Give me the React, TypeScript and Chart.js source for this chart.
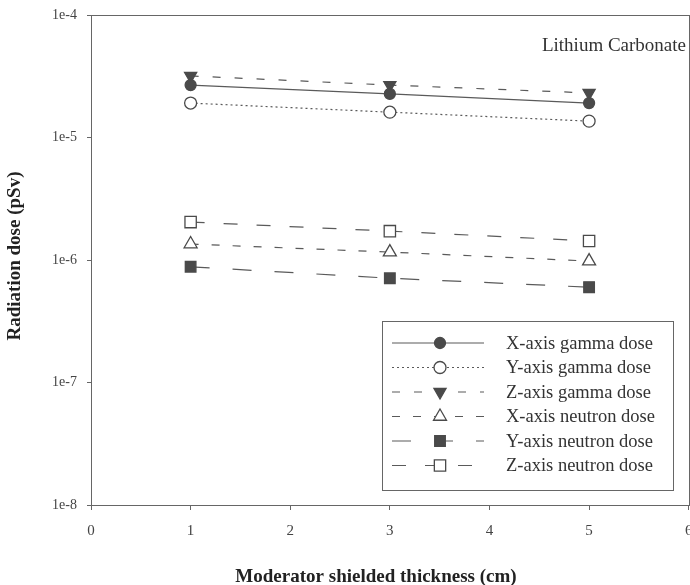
import React, { useEffect, useRef } from "react";
import { Chart, registerables } from "chart.js";

Chart.register(...registerables);

// ---- data ----
const thickness = [1, 3, 5];
const xTickValues = [0, 1, 2, 3, 4, 5, 6];
const yTickValues = [1e-8, 1e-7, 1e-6, 1e-5, 1e-4];
const seriesLabels = [
  "X-axis gamma dose",
  "Y-axis gamma dose",
  "Z-axis gamma dose",
  "X-axis neutron dose",
  "Y-axis neutron dose",
  "Z-axis neutron dose",
];
const xGamma = [2.68e-5, 2.27e-5, 1.91e-5];
const yGamma = [1.91e-5, 1.61e-5, 1.36e-5];
const zGamma = [3.18e-5, 2.68e-5, 2.31e-5];
const xNeutron = [1.35e-6, 1.16e-6, 9.8e-7];
const yNeutron = [8.8e-7, 7.1e-7, 6.0e-7];
const zNeutron = [2.04e-6, 1.72e-6, 1.43e-6];
const chartTitle = "Lithium Carbonate";
const xTitle = "Moderator shielded thickness (cm)";
const yTitle = "Radiation dose (pSv)";

const SERIF = '"Liberation Serif", "Times New Roman", serif';
const LINE = "#5a5a5a";
const MARK = "#4a4a4a";
const AXIS = "#666";
const TEXT = "#333";

type Style = {
  shape: "circle" | "triangle" | "rect";
  filled: boolean;
  dash: number[];
  rot: number;
  radius: number;
};

const styles: Style[] = [
  { shape: "circle", filled: true, dash: [], rot: 0, radius: 5.5 },
  { shape: "circle", filled: false, dash: [2, 3], rot: 0, radius: 6 },
  { shape: "triangle", filled: true, dash: [8, 14], rot: 180, radius: 7 },
  { shape: "triangle", filled: false, dash: [8, 13], rot: 0, radius: 7.5 },
  { shape: "rect", filled: true, dash: [19, 23], rot: 0, radius: 7.5 },
  { shape: "rect", filled: false, dash: [14, 19], rot: 0, radius: 8 },
];

const seriesData = [xGamma, yGamma, zGamma, xNeutron, yNeutron, zNeutron];

function drawMarker(ctx: CanvasRenderingContext2D, s: Style, x: number, y: number) {
  ctx.save();
  ctx.setLineDash([]);
  ctx.lineWidth = 1.3;
  ctx.strokeStyle = MARK;
  ctx.fillStyle = s.filled ? MARK : "#fff";
  ctx.beginPath();
  const r = s.radius;
  if (s.shape === "circle") {
    ctx.arc(x, y, r, 0, Math.PI * 2);
  } else if (s.shape === "triangle") {
    let rad = (s.rot * Math.PI) / 180;
    ctx.moveTo(x + Math.sin(rad) * r, y - Math.cos(rad) * r);
    rad += (2 * Math.PI) / 3;
    ctx.lineTo(x + Math.sin(rad) * r, y - Math.cos(rad) * r);
    rad += (2 * Math.PI) / 3;
    ctx.lineTo(x + Math.sin(rad) * r, y - Math.cos(rad) * r);
    ctx.closePath();
  } else {
    const h = Math.SQRT1_2 * r;
    ctx.rect(x - h, y - h, 2 * h, 2 * h);
  }
  ctx.fill();
  ctx.stroke();
  ctx.restore();
}

const CANVAS_W = 698;

export default function App() {
  const ref = useRef<HTMLCanvasElement>(null);

  useEffect(() => {
    const canvas = ref.current!;

    const framePlugin = {
      id: "frame",
      beforeDatasetsDraw(chart: any) {
        const { left, top, right, bottom } = chart.chartArea;
        const ctx = chart.ctx as CanvasRenderingContext2D;
        ctx.save();
        ctx.strokeStyle = AXIS;
        ctx.lineWidth = 1;
        ctx.strokeRect(Math.round(left) + 0.5, Math.round(top) + 0.5, Math.round(right - left), Math.round(bottom - top));
        ctx.restore();
      },
    };

    const decorPlugin = {
      id: "decor",
      afterDraw(chart: any) {
        const ctx = chart.ctx as CanvasRenderingContext2D;
        ctx.save();
        // chart title inside plot
        ctx.fillStyle = TEXT;
        ctx.font = `19px ${SERIF}`;
        ctx.textAlign = "right";
        ctx.textBaseline = "middle";
        ctx.fillText(chartTitle, 686, 46);
        // axis titles
        ctx.font = `bold 19px ${SERIF}`;
        ctx.fillStyle = "#222";
        ctx.textAlign = "center";
        ctx.fillText(xTitle, 376, 577);
        ctx.save();
        ctx.translate(15, 256);
        ctx.rotate(-Math.PI / 2);
        ctx.fillText(yTitle, 0, 0);
        ctx.restore();

        // legend
        const bx = 382.5, by = 321.5, bw = 291, bh = 169;
        ctx.fillStyle = "#fff";
        ctx.fillRect(bx, by, bw, bh);
        ctx.strokeStyle = AXIS;
        ctx.lineWidth = 1;
        ctx.strokeRect(bx, by, bw, bh);
        seriesLabels.forEach((label, i) => {
          const s = styles[i];
          const y = 343 + i * 24.5;
          ctx.save();
          ctx.strokeStyle = LINE;
          ctx.lineWidth = 1.2;
          ctx.setLineDash(s.dash);
          ctx.beginPath();
          ctx.moveTo(392, y);
          ctx.lineTo(484, y);
          ctx.stroke();
          ctx.restore();
          drawMarker(ctx, s, 440, y);
          ctx.fillStyle = TEXT;
          ctx.font = `18.5px ${SERIF}`;
          ctx.textAlign = "left";
          ctx.textBaseline = "middle";
          ctx.fillText(label, 506, y + 1);
        });
        ctx.restore();
      },
    };

    const chart = new Chart(canvas, {
      type: "line",
      data: {
        datasets: seriesLabels.map((label, i) => {
          const s = styles[i];
          return {
            label,
            data: thickness.map((x, j) => ({ x, y: seriesData[i][j] })),
            borderColor: LINE,
            borderWidth: 1.2,
            borderDash: s.dash,
            pointStyle: s.shape,
            pointRadius: s.radius,
            pointRotation: s.rot,
            pointBackgroundColor: s.filled ? MARK : "#fff",
            pointBorderColor: MARK,
            pointBorderWidth: 1.3,
            fill: false,
            tension: 0,
          } as any;
        }),
      },
      options: {
        animation: false,
        responsive: false,
        maintainAspectRatio: false,
        layout: { padding: { top: 15, right: 1, left: 0, bottom: 0 } },
        plugins: {
          legend: { display: false },
          tooltip: { enabled: false },
          title: { display: false },
        },
        scales: {
          x: {
            type: "linear",
            min: 0,
            max: 6,
            afterBuildTicks: (s: any) => {
              s.ticks = xTickValues.map((v) => ({ value: v }));
            },
            afterFit: (s: any) => {
              s.height = 80;
              s.paddingLeft = 0;
              s.paddingRight = 0;
            },
            grid: { drawOnChartArea: false, drawTicks: true, tickLength: 5, color: AXIS },
            border: { display: false },
            ticks: {
              color: "#444",
              font: { family: SERIF, size: 15 },
              padding: 12,
              maxRotation: 0,
              autoSkip: false,
            },
          },
          y: {
            type: "logarithmic",
            min: 1e-8,
            max: 1e-4,
            afterBuildTicks: (s: any) => {
              s.ticks = yTickValues.map((v) => ({ value: v }));
            },
            afterFit: (s: any) => {
              s.width = 91;
              s.paddingTop = 0;
              s.paddingBottom = 0;
            },
            grid: { drawOnChartArea: false, drawTicks: true, tickLength: 4, color: AXIS },
            border: { display: false },
            ticks: {
              color: "#444",
              font: { family: SERIF, size: 14 },
              padding: 10,
              autoSkip: false,
              callback: (v: any) => "1e" + Math.round(Math.log10(Number(v))),
            },
          },
        },
      } as any,
      plugins: [framePlugin, decorPlugin],
    });

    return () => chart.destroy();
  }, []);

  return (
    <div style={{ position: "absolute", left: 0, top: 0, width: 690, height: 585, background: "#fff", overflow: "hidden" }}>
      <canvas ref={ref} width={CANVAS_W} height={585} style={{ width: CANVAS_W, height: 585, display: "block" }} />
    </div>
  );
}
